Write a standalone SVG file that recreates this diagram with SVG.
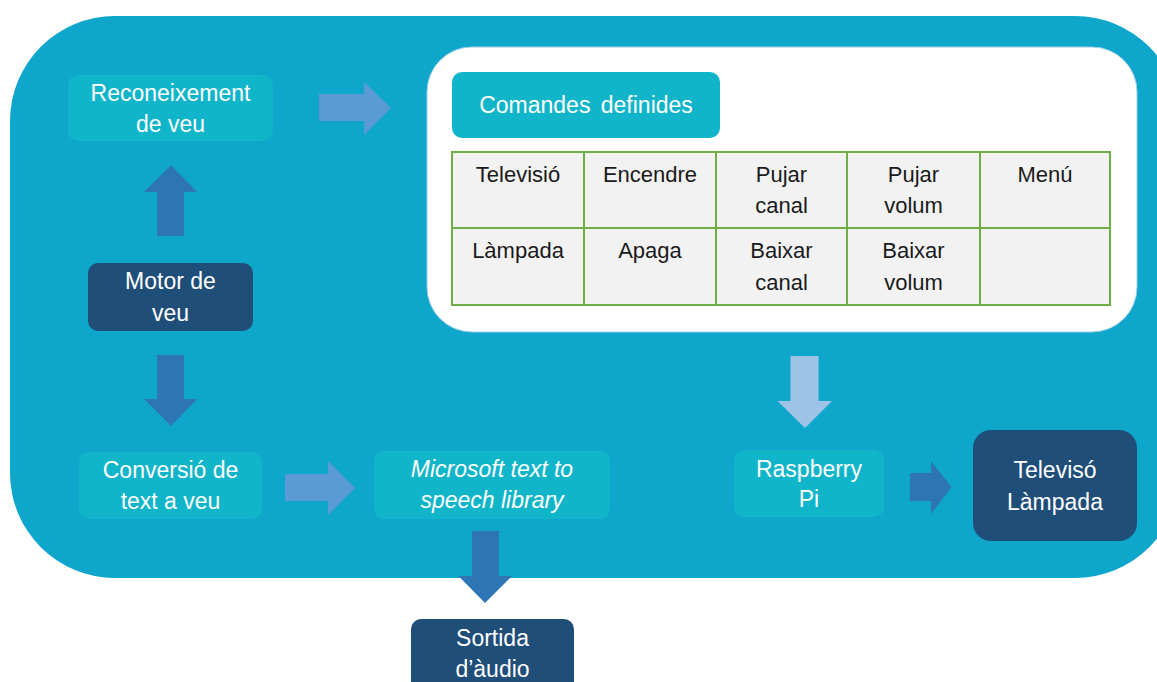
<svg xmlns="http://www.w3.org/2000/svg" width="1157" height="682" viewBox="0 0 1157 682">
<style>
.t{font-family:"Liberation Sans",Arial,sans-serif;font-size:23px;fill:#ffffff;text-anchor:middle}
.c{font-family:"Liberation Sans",Arial,sans-serif;font-size:22px;fill:#1a1a1a;text-anchor:middle}
.lt{fill:#10b5c9}
.dk{fill:#1f4e79}
.cell{fill:#f2f2f2;stroke:#70ad47;stroke-width:2}
.a1{fill:#2e75b6}
.a2{fill:#5b9bd5}
.a3{fill:#9dc3e6}
</style>
<rect x="0" y="0" width="1157" height="682" fill="#ffffff"/>
<rect id="background" x="10" y="16" width="1170" height="562" rx="105" ry="105" fill="#0fa6cb"/>
<g id="panel">
<rect x="427" y="47" width="710" height="285" rx="45" ry="45" fill="#ffffff" stroke="#9ccfe6" stroke-width="1"/>
</g>
<g id="comandes">
<rect x="452" y="72" width="268" height="66" rx="10" class="lt"/>
<text x="586" y="113" class="t" style="word-spacing:4px">Comandes definides</text>
</g>
<g id="table">
<rect x="452" y="152" width="132" height="76" class="cell"/>
<rect x="584" y="152" width="132" height="76" class="cell"/>
<rect x="716" y="152" width="131" height="76" class="cell"/>
<rect x="847" y="152" width="133" height="76" class="cell"/>
<rect x="980" y="152" width="130" height="76" class="cell"/>
<rect x="452" y="228" width="132" height="77" class="cell"/>
<rect x="584" y="228" width="132" height="77" class="cell"/>
<rect x="716" y="228" width="131" height="77" class="cell"/>
<rect x="847" y="228" width="133" height="77" class="cell"/>
<rect x="980" y="228" width="130" height="77" class="cell"/>
<text x="518" y="182" class="c">Televisió</text>
<text x="650" y="182" class="c">Encendre</text>
<text x="781.5" y="182" class="c">Pujar</text>
<text x="781.5" y="213" class="c">canal</text>
<text x="913.5" y="182" class="c">Pujar</text>
<text x="913.5" y="213" class="c">volum</text>
<text x="1045" y="182" class="c">Menú</text>
<text x="518" y="258" class="c">Làmpada</text>
<text x="650" y="258" class="c">Apaga</text>
<text x="781.5" y="258" class="c">Baixar</text>
<text x="781.5" y="290" class="c">canal</text>
<text x="913.5" y="258" class="c">Baixar</text>
<text x="913.5" y="290" class="c">volum</text>
</g>
<g id="reconeixement">
<rect x="68" y="75" width="205" height="66" rx="10" class="lt"/>
<text x="170.5" y="101" class="t">Reconeixement</text>
<text x="170.5" y="132" class="t">de veu</text>
</g>
<g id="motor">
<rect x="88" y="263" width="165" height="68" rx="10" class="dk"/>
<text x="170.5" y="289" class="t">Motor de</text>
<text x="170.5" y="321" class="t">veu</text>
</g>
<g id="conversio">
<rect x="79" y="452" width="183" height="67" rx="10" class="lt"/>
<text x="170.5" y="478" class="t">Conversió de</text>
<text x="170.5" y="509" class="t">text a veu</text>
</g>
<g id="microsoft">
<rect x="374" y="451" width="236" height="68" rx="10" class="lt"/>
<text x="492" y="477" class="t" font-style="italic">Microsoft text to</text>
<text x="492" y="508" class="t" font-style="italic">speech library</text>
</g>
<g id="sortida">
<rect x="411" y="619" width="163" height="80" rx="10" class="dk"/>
<text x="492.5" y="646" class="t">Sortida</text>
<text x="492.5" y="677" class="t">d’àudio</text>
</g>
<g id="raspberry">
<rect x="734" y="450" width="150" height="67" rx="10" class="lt"/>
<text x="809" y="477" class="t">Raspberry</text>
<text x="809" y="507" class="t">Pi</text>
</g>
<g id="televiso">
<rect x="973" y="430" width="164" height="111" rx="18" class="dk"/>
<text x="1055" y="478" class="t">Televisó</text>
<text x="1055" y="510" class="t">Làmpada</text>
</g>
<g id="connectors">
<polygon class="a2" points="319,94 364,94 364,82 391,108 364,135 364,121 319,121"/>
<polygon class="a1" points="157,236 157,192 144,192 171,165 197,192 184,192 184,236"/>
<polygon class="a1" points="157,355 184,355 184,399 197.5,399 171,426 144,399 157,399"/>
<polygon class="a2" points="285,474 328,474 328,461 355,488 328,515 328,501 285,501"/>
<polygon class="a1" points="472,531 499,531 499,576 512,576 485,603 458.5,576 472,576"/>
<polygon class="a3" points="790.5,356 818.5,356 818.5,401 832,401 805,428 777.5,401 790.5,401"/>
<polygon class="a1" points="910,473 931,473 931,461 951.5,487 931,514 931,501 910,501"/>
</g>
</svg>
